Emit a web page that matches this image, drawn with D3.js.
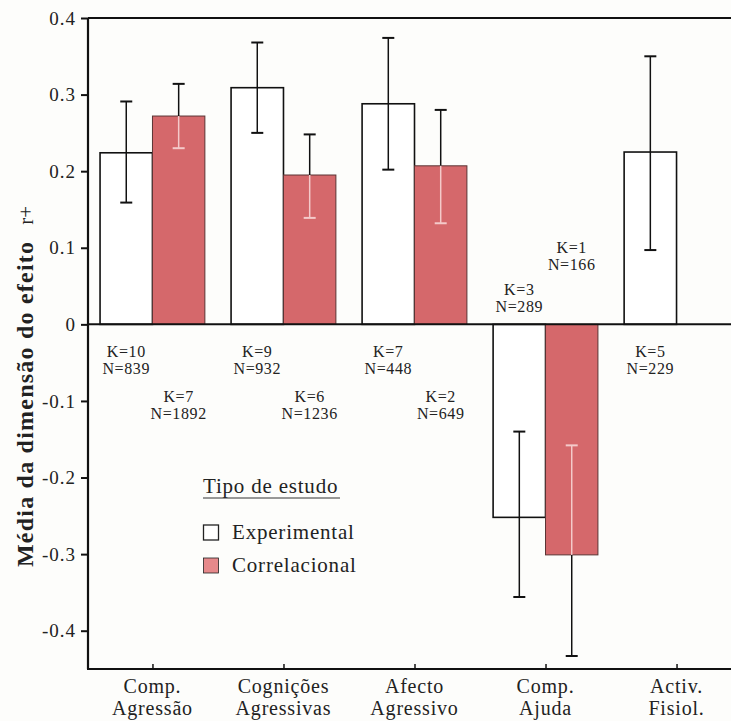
<!DOCTYPE html>
<html>
<head>
<meta charset="utf-8">
<script src="https://cdn.jsdelivr.net/npm/d3@7"></script>
<style>
  body { margin: 0; background: #fdfdfb; }
  svg { display: block; font-family: "Liberation Serif", "Times New Roman", serif; }
</style>
</head>
<body>
<svg id="chart"></svg>
<script>
const width = 731;
const height = 721;

// categories (two lines each)
const categories = ["Comp.|Agressão", "Cognições|Agressivas", "Afecto|Agressivo", "Comp.|Ajuda", "Activ.|Fisiol."];

// experimental studies
const expMean = [0.224, 0.309, 0.288, -0.252, 0.225];
const expLow = [0.159, 0.250, 0.202, -0.356, 0.097];
const expHigh = [0.291, 0.368, 0.374, -0.140, 0.350];
const expK = [10, 9, 7, 3, 5];
const expN = [839, 932, 448, 289, 229];

// correlational studies
const corMean = [0.272, 0.195, 0.207, -0.301, null];
const corLow = [0.230, 0.139, 0.132, -0.433, null];
const corHigh = [0.314, 0.248, 0.280, -0.158, null];
const corK = [7, 6, 2, 1, null];
const corN = [1892, 1236, 649, 166, null];

const yTicks = [0.4, 0.3, 0.2, 0.1, 0, -0.1, -0.2, -0.3, -0.4];
const seriesNames = ["Experimental", "Correlacional"];
const legendTitle = "Tipo de estudo";

const red = "#d5686b";

const svg = d3.select("#chart")
    .attr("width", width)
    .attr("height", height);

const x0 = d3.scaleBand()
    .domain(d3.range(categories.length))
    .range([88, 741])
    .paddingInner(0.2)
    .paddingOuter(0.092);

const x1 = d3.scaleBand()
    .domain([0, 1])
    .range([0, x0.bandwidth()]);

const y = d3.scaleLinear()
    .domain([-0.45, 0.4])
    .range([669, 18]);

// build rows from the arrays
const rows = [];
categories.forEach((c, i) => {
    rows.push({ g: i, s: 0, mean: expMean[i], lo: expLow[i], hi: expHigh[i], k: expK[i], n: expN[i] });
    if (corMean[i] !== null) {
        rows.push({ g: i, s: 1, mean: corMean[i], lo: corLow[i], hi: corHigh[i], k: corK[i], n: corN[i] });
    }
});
const cx = d => x0(d.g) + x1(d.s) + x1.bandwidth() / 2;

// top frame line
svg.append("line")
    .attr("x1", 88).attr("x2", width)
    .attr("y1", y(0.4)).attr("y2", y(0.4))
    .attr("stroke", "#111").attr("stroke-width", 2);

// bars
svg.append("g")
    .attr("class", "bars")
    .selectAll("rect")
    .data(rows)
    .enter()
    .append("rect")
    .attr("x", d => x0(d.g) + x1(d.s))
    .attr("y", d => y(Math.max(0, d.mean)))
    .attr("width", x1.bandwidth())
    .attr("height", d => Math.abs(y(d.mean) - y(0)))
    .attr("fill", d => d.s == 0 ? "#ffffff" : red)
    .attr("stroke", d => d.s == 0 ? "#111" : "#5a3434")
    .attr("stroke-width", d => d.s == 0 ? 1.6 : 1);

// error bars: outer part black, part inside red bars light
const errs = svg.append("g").attr("class", "errors");
rows.forEach(d => {
    const outer = d.mean >= 0 ? d.hi : d.lo;
    const inner = d.mean >= 0 ? d.lo : d.hi;
    const innerCol = d.s == 0 ? "#111" : "#f4caca";
    errs.append("line")
        .attr("x1", cx(d)).attr("x2", cx(d))
        .attr("y1", y(outer)).attr("y2", y(d.mean))
        .attr("stroke", "#111").attr("stroke-width", 1.5);
    errs.append("line")
        .attr("x1", cx(d)).attr("x2", cx(d))
        .attr("y1", y(d.mean)).attr("y2", y(inner))
        .attr("stroke", innerCol).attr("stroke-width", 1.5);
    errs.append("line")
        .attr("x1", cx(d) - 6).attr("x2", cx(d) + 6)
        .attr("y1", y(outer)).attr("y2", y(outer))
        .attr("stroke", "#111").attr("stroke-width", 2);
    errs.append("line")
        .attr("x1", cx(d) - 6).attr("x2", cx(d) + 6)
        .attr("y1", y(inner)).attr("y2", y(inner))
        .attr("stroke", innerCol).attr("stroke-width", 2);
});

// zero line
svg.append("line")
    .attr("x1", 88).attr("x2", width)
    .attr("y1", y(0)).attr("y2", y(0))
    .attr("stroke", "#111").attr("stroke-width", 2);

// y axis
const yAxis = d3.axisLeft(y)
    .tickValues(yTicks)
    .tickSize(7)
    .tickPadding(5)
    .tickFormat(d => d == 0 ? "0" : d.toFixed(1));

svg.append("g")
    .attr("class", "axis y")
    .attr("transform", "translate(88,0)")
    .call(yAxis)
    .call(g => g.select(".domain").attr("stroke", "#111").attr("stroke-width", 2.2).attr("d", `M0,${y(0.4)}V669`))
    .call(g => g.selectAll(".tick line").attr("stroke", "#111").attr("stroke-width", 2))
    .call(g => g.selectAll("text")
        .attr("font-family", "Liberation Serif, serif")
        .attr("font-size", 19)
        .attr("letter-spacing", 1)
        .attr("fill", "#222"));

// x axis
const xAxis = d3.axisBottom(d3.scaleOrdinal().domain(categories).range(categories.map((c, i) => x0(i) + x0.bandwidth() / 2)))
    .tickSize(-5)
    .tickFormat("");

svg.append("g")
    .attr("class", "axis x")
    .attr("transform", "translate(0,669)")
    .call(xAxis)
    .call(g => g.select(".domain").attr("stroke", "#111").attr("stroke-width", 2.2).attr("d", `M87,0H${width}`))
    .call(g => g.selectAll(".tick line").attr("stroke", "#111").attr("stroke-width", 1.5));

svg.append("g")
    .attr("class", "labels")
    .selectAll("text")
    .data(categories)
    .enter()
    .append("text")
    .attr("x", (d, i) => x0(i) + x0.bandwidth() / 2)
    .attr("y", 693)
    .attr("text-anchor", "middle")
    .attr("font-size", 20)
    .attr("letter-spacing", 0.8)
    .attr("fill", "#222")
    .each(function (d) {
        const parts = d.split("|");
        d3.select(this).selectAll("tspan")
            .data(parts)
            .enter()
            .append("tspan")
            .attr("x", d3.select(this).attr("x"))
            .attr("dy", (p, j) => j == 0 ? 0 : 22)
            .text(p => p);
    });

// K / N annotations, staggered by series
const annot = svg.append("g")
    .attr("class", "annot")
    .selectAll("text")
    .data(rows)
    .enter()
    .append("text")
    .attr("text-anchor", "middle")
    .attr("font-size", 16)
    .attr("letter-spacing", 0.6)
    .attr("fill", "#222")
    .attr("x", d => cx(d))
    .attr("y", d => {
        if (d.mean >= 0) return y(0) + (d.s == 0 ? 33 : 78);
        return y(0) - (d.s == 0 ? 29 : 71);
    });
annot.append("tspan").text(d => `K=${d.k}`);
annot.append("tspan")
    .attr("x", d => cx(d))
    .attr("dy", 17)
    .text(d => `N=${d.n}`);

// y axis title
const title = svg.append("text")
    .attr("transform", "translate(33,567) rotate(-90)")
    .attr("font-size", 24)
    .attr("fill", "#222");
title.append("tspan")
    .attr("font-weight", "bold")
    .attr("textLength", 325)
    .attr("lengthAdjust", "spacing")
    .text("Média da dimensão do efeito");
title.append("tspan")
    .attr("dx", 16)
    .attr("font-size", 21)
    .text("r+");

// legend
const legend = svg.append("g")
    .attr("class", "legend")
    .attr("transform", "translate(203,0)");

legend.append("text")
    .attr("x", 0)
    .attr("y", 493)
    .attr("font-size", 21)
    .attr("letter-spacing", 0.8)
    .attr("fill", "#222")
    .text(legendTitle);
legend.append("line")
    .attr("x1", 0).attr("x2", 137)
    .attr("y1", 498).attr("y2", 498)
    .attr("stroke", "#333").attr("stroke-width", 1);

seriesNames.forEach((name, i) => {
    legend.append("rect")
        .attr("x", 0.5)
        .attr("y", 525 + i * 33)
        .attr("width", 15)
        .attr("height", 15)
        .attr("fill", i == 0 ? "#fff" : "#e6898b")
        .attr("stroke", "#222")
        .attr("stroke-width", i == 0 ? 1.3 : 0.8);
    legend.append("text")
        .attr("x", 29)
        .attr("y", 539 + i * 33)
        .attr("font-size", 21)
        .attr("letter-spacing", 0.8)
        .attr("fill", "#222")
        .text(name);
});
</script>
</body>
</html>
